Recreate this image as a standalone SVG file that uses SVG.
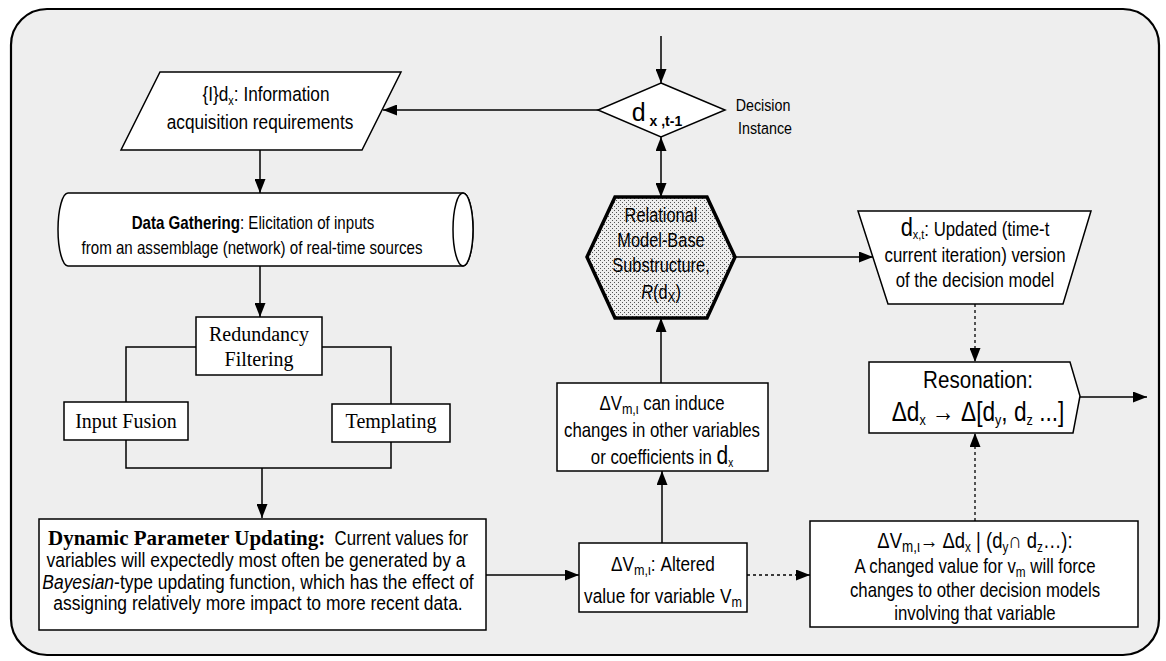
<svg xmlns="http://www.w3.org/2000/svg" width="1166" height="661" viewBox="0 0 1166 661">
<defs>
<marker id="ah" markerWidth="14" markerHeight="11" refX="14" refY="5.5" orient="auto-start-reverse" markerUnits="userSpaceOnUse"><path d="M0,0 L14,5.5 L0,11 Z" fill="#000"/></marker>
<pattern id="dots" width="4" height="4" patternUnits="userSpaceOnUse"><rect width="4" height="4" fill="#eeeeee"/><rect x="0" y="0" width="1" height="1" fill="#555"/><rect x="2" y="2" width="1" height="1" fill="#555"/></pattern>
<style>
.sh{fill:#fff;stroke:#000;stroke-width:1.5}
.ln{fill:none;stroke:#000;stroke-width:1.5}
.ar{fill:none;stroke:#000;stroke-width:1.5;marker-end:url(#ah)}
.da{fill:none;stroke:#000;stroke-width:1.3;stroke-dasharray:3 3;marker-end:url(#ah)}
.n{font-family:"Liberation Sans",Arial,sans-serif;fill:#000;text-anchor:middle}
.s{font-family:"Liberation Serif","Times New Roman",serif;fill:#000;text-anchor:middle}
</style>
</defs>
<rect width="1166" height="661" fill="#fff"/>
<rect id="frame" x="11" y="9" width="1148" height="646" rx="36" fill="#eeeeee" stroke="#000" stroke-width="2.2"/>

<g id="connectors">
<line class="ar" x1="661" y1="36" x2="661" y2="83"/>
<line class="ar" x1="598" y1="110" x2="383" y2="110"/>
<line class="ar" x1="260" y1="150" x2="260" y2="193"/>
<line class="ar" x1="260" y1="266" x2="260" y2="317"/>
<rect class="ln" x="126" y="347" width="265" height="121"/>
<line class="ar" x1="262" y1="468" x2="262" y2="518"/>
<line class="ar" x1="486" y1="575" x2="579" y2="575"/>
<line class="da" x1="747" y1="575" x2="810" y2="575"/>
<line class="ar" x1="662" y1="543" x2="662" y2="471"/>
<line class="ar" x1="661" y1="383" x2="661" y2="318"/>
<line class="ar" x1="661" y1="137" x2="661" y2="197" style="marker-start:url(#ah)"/>
<line class="ar" x1="735" y1="257" x2="873" y2="257"/>
<line class="da" x1="975" y1="304" x2="975" y2="362"/>
<line class="da" x1="975" y1="521" x2="975" y2="433"/>
<line class="ar" x1="1080" y1="397" x2="1147" y2="397"/>
</g>

<g id="info-req">
<polygon class="sh" points="160,72 401,72 362,150 121,150"/>
<text class="n" transform="translate(266,0) scale(0.84,1)" x="0" y="101" font-size="20.5">{I}d<tspan font-size="13" dy="4">x</tspan><tspan dy="-4">: Information</tspan></text>
<text class="n" transform="translate(260,0) scale(0.84,1)" x="0" y="129" font-size="20.5">acquisition requirements</text>
</g>

<g id="decision">
<polygon class="sh" points="661,83 725,110 661,137 598,110"/>
<text class="n" x="657" y="121" font-size="25">d<tspan font-size="14" dy="5" font-weight="bold"> x ,t-1</tspan></text>
<text class="n" transform="translate(763,0) scale(0.84,1)" x="0" y="111" font-size="17">Decision</text>
<text class="n" transform="translate(765,0) scale(0.84,1)" x="0" y="134" font-size="17">Instance</text>
</g>

<g id="data-gathering">
<path class="sh" d="M68,193 L463,193 A10,36.5 0 0 1 463,266 L68,266 A10,36.5 0 0 1 68,193 Z"/>
<ellipse class="sh" cx="463" cy="229.5" rx="10" ry="36.5"/>
<text class="n" transform="translate(253,0) scale(0.84,1)" x="0" y="229" font-size="18"><tspan font-weight="bold">Data Gathering</tspan>: Elicitation of inputs</text>
<text class="n" transform="translate(252,0) scale(0.84,1)" x="0" y="254" font-size="18">from an assemblage (network) of real-time sources</text>
</g>

<g id="redundancy">
<rect class="sh" x="196" y="317" width="126" height="58"/>
<text class="s" x="259" y="341" font-size="20">Redundancy</text>
<text class="s" x="259" y="366" font-size="20">Filtering</text>
</g>

<g id="input-fusion">
<rect class="sh" x="64" y="402" width="124" height="38"/>
<text class="s" x="126" y="428" font-size="20">Input Fusion</text>
</g>

<g id="templating">
<rect class="sh" x="332" y="404" width="118" height="38"/>
<text class="s" x="391" y="428" font-size="20">Templating</text>
</g>

<g id="dynamic">
<rect class="sh" x="39" y="519" width="447" height="111"/>
<text class="s" x="48" y="545" font-size="21" font-weight="bold" style="text-anchor:start">Dynamic Parameter Updating:</text>
<text class="n" transform="translate(468,0) scale(0.84,1)" x="0" y="545" font-size="20" style="text-anchor:end">Current values for</text>
<text class="n" transform="translate(256,0) scale(0.84,1)" x="0" y="567" font-size="20.8">variables will expectedly most often be generated by a</text>
<text class="n" transform="translate(258,0) scale(0.84,1)" x="0" y="589" font-size="20.8"><tspan font-style="italic">Bayesian</tspan>-type updating function, which has the effect of</text>
<text class="n" transform="translate(258,0) scale(0.84,1)" x="0" y="610" font-size="20.8">assigning relatively more impact to more recent data.</text>
</g>

<g id="altered">
<rect class="sh" x="579" y="543" width="168" height="69"/>
<text class="n" transform="translate(663,0) scale(0.84,1)" x="0" y="571" font-size="20.5">ΔV<tspan font-size="15" dy="4">m,ι</tspan><tspan dy="-4">:  Altered</tspan></text>
<text class="n" transform="translate(663,0) scale(0.84,1)" x="0" y="603" font-size="20.5">value for variable V<tspan font-size="15" dy="4">m</tspan></text>
</g>

<g id="induce">
<rect class="sh" x="557" y="383" width="211" height="88"/>
<text class="n" transform="translate(662,0) scale(0.84,1)" x="0" y="410" font-size="20">ΔV<tspan font-size="15" dy="4">m,ι</tspan><tspan dy="-4"> can induce</tspan></text>
<text class="n" transform="translate(662,0) scale(0.84,1)" x="0" y="437" font-size="20">changes in other variables</text>
<text class="n" transform="translate(662,0) scale(0.84,1)" x="0" y="464" font-size="20">or coefficients in <tspan font-size="25">d</tspan><tspan font-size="12" dy="3">x</tspan></text>
</g>

<g id="hexagon">
<polygon points="615,197 707,197 735,257 707,318 615,318 587,257" fill="url(#dots)" stroke="#000" stroke-width="3.5" stroke-linejoin="miter"/>
<text class="n" transform="translate(661,0) scale(0.84,1)" x="0" y="222" font-size="19.5">Relational</text>
<text class="n" transform="translate(661,0) scale(0.84,1)" x="0" y="247" font-size="19.5">Model-Base</text>
<text class="n" transform="translate(661,0) scale(0.84,1)" x="0" y="272" font-size="19.5">Substructure,</text>
<text class="n" transform="translate(661,0) scale(0.84,1)" x="0" y="299" font-size="19.5"><tspan font-style="italic">R</tspan>(d<tspan font-size="14" dy="3">X</tspan><tspan dy="-3">)</tspan></text>
</g>

<g id="updated">
<polygon class="sh" points="858,211 1091,211 1063,304 888,304"/>
<text class="n" transform="translate(975,0) scale(0.84,1)" x="0" y="236" font-size="20"><tspan font-size="26">d</tspan><tspan font-size="13" dy="3">x,t</tspan><tspan dy="-3">:  Updated (time-t</tspan></text>
<text class="n" transform="translate(975,0) scale(0.84,1)" x="0" y="262" font-size="20">current iteration) version</text>
<text class="n" transform="translate(975,0) scale(0.84,1)" x="0" y="287" font-size="20">of the decision model</text>
</g>

<g id="resonation">
<polygon class="sh" points="869,362 1070,362 1080,396 1073,433 869,433"/>
<text class="n" transform="translate(978,0) scale(0.84,1)" x="0" y="388" font-size="24.5">Resonation:</text>
<text class="n" transform="translate(978,0) scale(0.84,1)" x="0" y="421" font-size="27">Δd<tspan font-size="15" dy="4">x</tspan><tspan dy="-4"> → Δ[d</tspan><tspan font-size="15" dy="4">y</tspan><tspan dy="-4">, d</tspan><tspan font-size="15" dy="4">z</tspan><tspan dy="-4"> ...]</tspan></text>
</g>

<g id="force">
<rect class="sh" x="810" y="521" width="328" height="106"/>
<text class="n" transform="translate(975,0) scale(0.84,1)" x="0" y="548" font-size="22">ΔV<tspan font-size="16" dy="4">m,ι</tspan><tspan dy="-4">→ Δd</tspan><tspan font-size="14" dy="4">x</tspan><tspan dy="-4"> | (d</tspan><tspan font-size="14" dy="4">y</tspan><tspan dy="-4">∩ d</tspan><tspan font-size="14" dy="4">z</tspan><tspan dy="-4">…):</tspan></text>
<text class="n" transform="translate(975,0) scale(0.84,1)" x="0" y="573" font-size="20">A changed value for v<tspan font-size="14" dy="4">m</tspan><tspan dy="-4"> will force</tspan></text>
<text class="n" transform="translate(975,0) scale(0.84,1)" x="0" y="597" font-size="20">changes to other decision models</text>
<text class="n" transform="translate(975,0) scale(0.84,1)" x="0" y="620" font-size="20">involving that variable</text>
</g>
</svg>
